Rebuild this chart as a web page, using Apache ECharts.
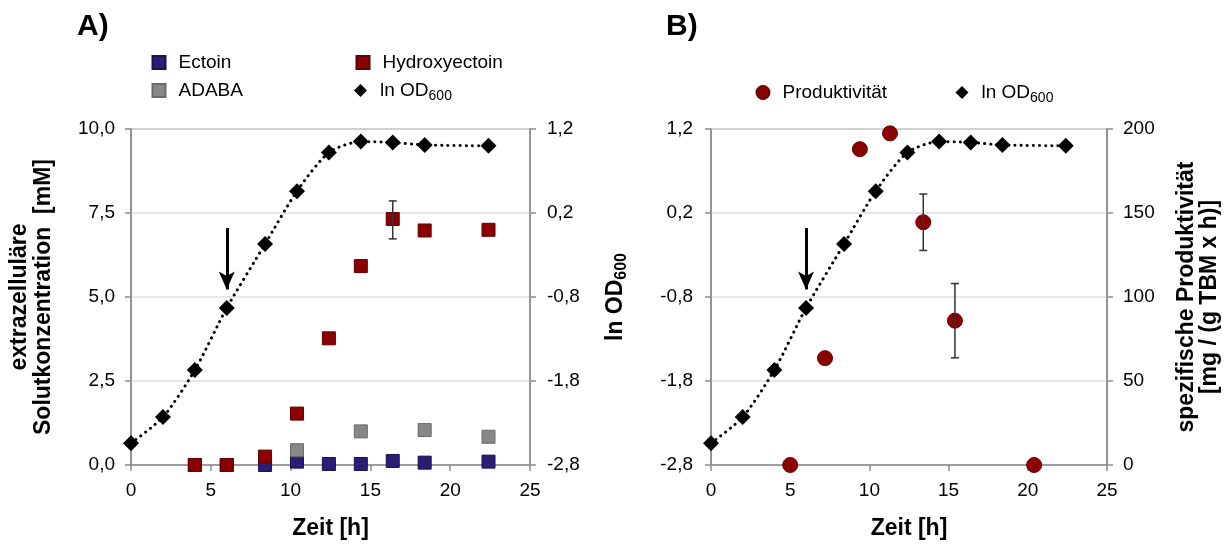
<!DOCTYPE html>
<html>
<head>
<meta charset="utf-8">
<script src="https://cdn.jsdelivr.net/npm/echarts@6/dist/echarts.min.js"></script>
<style>
  html, body { margin: 0; padding: 0; background: #fff; }
  #chart { width: 1229px; height: 545px; }
</style>
</head>
<body>
<div id="chart"></div>
<script>
// Wachstum (ln OD600) – gleiche Messzeitpunkte in A und B
const timeOD = [0, 2, 4, 6, 8.4, 10.4, 12.4, 14.4, 16.4, 18.4, 22.4]
const lnOD = [-2.54, -2.23, -1.67, -0.93, -0.17, 0.46, 0.92, 1.05, 1.04, 1.01, 1.0]

// A) extrazelluläre Solutkonzentration [mM]
const timeSolute = [4, 6, 8.4, 10.4, 12.4, 14.4, 16.4, 18.4, 22.4]
const ectoin = [0, 0, 0, 0.1, 0.03, 0.03, 0.12, 0.07, 0.1]
const hydroxyectoin = [0, 0, 0.25, 1.53, 3.77, 5.92, 7.32, 6.98, 7.0]
const timeAdaba = [10.4, 14.4, 18.4, 22.4]
const adaba = [0.44, 1.0, 1.04, 0.84]
const hydroxyErr = [[16.4, 6.73, 7.86]]

// B) spezifische Produktivität [mg / (g TBM x h)]
const timeProd = [5, 7.2, 9.4, 11.3, 13.4, 15.4, 20.4]
const produktivitaet = [0, 63.6, 188, 197.4, 144.5, 85.9, 0]
const prodErr = [[13.4, 127.7, 161.3], [15.4, 63.8, 108]]

// Pfeil (Zeitpunkt der Zugabe), in ln OD600
const arrowTime = 6
const arrowLnOD = [0.02, -0.71]

// Achsen-Ticks
const lnODTicks = [-2.8, -1.8, -0.8, 0.2, 1.2]

const FONT = 'Liberation Sans, Arial, sans-serif'
const AXIS_GRAY = '#8c8c8c'
const comma = v => (Math.round(v * 10) / 10).toFixed(1).replace('.', ',')
const zip = (xs, ys) => xs.map((x, i) => [x, ys[i]])

const subRich = (size, sub, lh, subLh, weight) => ({
  a: { fontSize: size, fontFamily: FONT, fontWeight: weight, lineHeight: lh, color: '#000' },
  s: { fontSize: sub, fontFamily: FONT, fontWeight: weight, lineHeight: subLh, verticalAlign: 'bottom', color: '#000' }
})

const errorBars = (name, xIdx, yIdx, data) => ({
  name: name,
  type: 'custom',
  xAxisIndex: xIdx,
  yAxisIndex: yIdx,
  z: 3,
  silent: true,
  encode: { x: 0, y: [1, 2] },
  renderItem: function(params, api) {
    const lo = api.coord([api.value(0), api.value(1)])
    const hi = api.coord([api.value(0), api.value(2)])
    const style = { stroke: '#333', lineWidth: 1.5 }
    return {
      type: 'group',
      children: [
        { type: 'line', shape: { x1: lo[0], y1: lo[1], x2: hi[0], y2: hi[1] }, style: style },
        { type: 'line', shape: { x1: lo[0] - 4, y1: lo[1], x2: lo[0] + 4, y2: lo[1] }, style: style },
        { type: 'line', shape: { x1: hi[0] - 4, y1: hi[1], x2: hi[0] + 4, y2: hi[1] }, style: style }
      ]
    }
  },
  data: data
})

const arrowMark = {
  silent: true,
  symbol: ['none', 'arrow'],
  symbolSize: [12, 18],
  label: { show: false },
  lineStyle: { color: '#000', width: 3, type: 'solid' },
  emphasis: { disabled: true },
  data: [[{ coord: [arrowTime, arrowLnOD[0]] }, { coord: [arrowTime, arrowLnOD[1]] }]]
}

const legendItem = (name, icon, left, top) => {
  const rich = subRich(19, 14, 26, 10, 'normal')
  rich.a.padding = [0, 0, 0, 8]
  return {
    data: [{ name: name, icon: icon }],
    left: left,
    top: top,
    padding: 0,
    itemWidth: 13,
    itemHeight: 13,
    selectedMode: false,
    formatter: n => n === 'ln OD600' ? '{a|ln OD}{s|600}' : '{a|' + n + '}',
    textStyle: { fontSize: 19, fontFamily: FONT, color: '#000', rich: rich }
  }
}

const xAxisBase = (gridIndex) => ({
  gridIndex: gridIndex,
  type: 'value',
  min: 0,
  max: 25,
  interval: 5,
  name: 'Zeit [h]',
  nameLocation: 'middle',
  nameGap: 52,
  nameTextStyle: { fontSize: 23, fontWeight: 'bold', color: '#000', fontFamily: FONT },
  axisLine: { onZero: false, lineStyle: { color: AXIS_GRAY, width: 1.5 } },
  axisTick: { length: 6, lineStyle: { color: AXIS_GRAY, width: 1.5 } },
  axisLabel: { fontSize: 19, color: '#000', margin: 16, fontFamily: FONT },
  splitLine: { show: false }
})

const lnODAxis = (gridIndex, position, margin, extra) => Object.assign({
  gridIndex: gridIndex,
  type: 'value',
  position: position,
  min: -2.8,
  max: 1.2,
  axisLine: { show: true, onZero: false, lineStyle: { color: AXIS_GRAY, width: 1.5 } },
  axisTick: { show: true, length: 6, customValues: lnODTicks, lineStyle: { color: AXIS_GRAY, width: 1.5 } },
  axisLabel: { customValues: lnODTicks, formatter: comma, fontSize: 19, color: '#000', margin: margin, fontFamily: FONT },
  splitLine: { show: false }
}, extra)

const chart = echarts.init(document.getElementById('chart'), null, { renderer: 'canvas' })
chart.setOption({
  animation: false,
  textStyle: { fontFamily: FONT },
  title: [
    { text: 'A)', left: 77, top: 12, padding: 0, textStyle: { fontSize: 30, fontWeight: 'bold', color: '#000', fontFamily: FONT } },
    { text: 'B)', left: 666, top: 12, padding: 0, textStyle: { fontSize: 30, fontWeight: 'bold', color: '#000', fontFamily: FONT } }
  ],
  legend: [
    legendItem('Ectoin', 'rect', 151.5, 53),
    legendItem('Hydroxyectoin', 'rect', 355.5, 53),
    legendItem('ADABA', 'rect', 151.5, 81),
    legendItem('ln OD600', 'diamond', 354, 81),
    legendItem('Produktivität', 'circle', 755.5, 83),
    legendItem('ln OD600', 'diamond', 955.5, 83)
  ],
  grid: [
    { left: 131, top: 129, width: 399, height: 338, show: true, borderColor: AXIS_GRAY, borderWidth: 1.5, backgroundColor: 'transparent' },
    { left: 711, top: 129, width: 396, height: 338, show: true, borderColor: AXIS_GRAY, borderWidth: 1.5, backgroundColor: 'transparent' }
  ],
  xAxis: [xAxisBase(0), xAxisBase(1)],
  yAxis: [
    {
      gridIndex: 0,
      type: 'value',
      position: 'left',
      min: 0,
      max: 10,
      interval: 2.5,
      name: 'extrazelluläre\nSolutkonzentration  [mM]',
      nameLocation: 'middle',
      nameGap: 75,
      nameTextStyle: { fontSize: 23, fontWeight: 'bold', color: '#000', lineHeight: 24, fontFamily: FONT },
      axisLine: { show: true, onZero: false, lineStyle: { color: AXIS_GRAY, width: 1.5 } },
      axisTick: { show: true, length: 6, lineStyle: { color: AXIS_GRAY, width: 1.5 } },
      axisLabel: { formatter: comma, fontSize: 19, color: '#000', margin: 16, fontFamily: FONT },
      splitLine: { show: true, lineStyle: { color: '#dedede', width: 1.5 } }
    },
    lnODAxis(0, 'right', 17, {
      name: '{a|ln OD}{s|600}',
      nameLocation: 'middle',
      nameRotate: 90,
      nameGap: 72,
      nameTextStyle: { fontSize: 23, fontWeight: 'bold', fontFamily: FONT, color: '#000', rich: subRich(23, 16, 28, 12, 'bold') }
    }),
    lnODAxis(1, 'left', 18, {}),
    {
      gridIndex: 1,
      type: 'value',
      position: 'right',
      min: 0,
      max: 200,
      interval: 50,
      name: 'spezifische Produktivität\n[mg / (g TBM x h)]',
      nameLocation: 'middle',
      nameRotate: 90,
      nameGap: 68,
      nameTextStyle: { fontSize: 23, fontWeight: 'bold', color: '#000', lineHeight: 23, fontFamily: FONT },
      axisLine: { show: true, onZero: false, lineStyle: { color: AXIS_GRAY, width: 1.5 } },
      axisTick: { show: true, length: 6, lineStyle: { color: AXIS_GRAY, width: 1.5 } },
      axisLabel: { fontSize: 19, color: '#000', margin: 16, fontFamily: FONT },
      splitLine: { show: true, lineStyle: { color: '#dedede', width: 1.5 } }
    }
  ],
  series: [
    // A)
    {
      name: 'Ectoin',
      type: 'scatter',
      xAxisIndex: 0,
      yAxisIndex: 0,
      symbol: 'rect',
      symbolSize: 13,
      itemStyle: { color: '#2b1c78', borderColor: '#1c1250', borderWidth: 1, opacity: 1 },
      data: zip(timeSolute, ectoin)
    },
    {
      name: 'ADABA',
      type: 'scatter',
      xAxisIndex: 0,
      yAxisIndex: 0,
      symbol: 'rect',
      symbolSize: 13,
      itemStyle: { color: '#878787', borderColor: '#6a6a6a', borderWidth: 1, opacity: 1 },
      data: zip(timeAdaba, adaba)
    },
    {
      name: 'Hydroxyectoin',
      type: 'scatter',
      xAxisIndex: 0,
      yAxisIndex: 0,
      symbol: 'rect',
      symbolSize: 13,
      itemStyle: { color: '#8b0000', borderColor: '#600000', borderWidth: 1, opacity: 1 },
      data: zip(timeSolute, hydroxyectoin)
    },
    errorBars('errA', 0, 0, hydroxyErr),
    {
      name: 'ln OD600',
      type: 'line',
      xAxisIndex: 0,
      yAxisIndex: 1,
      symbol: 'diamond',
      symbolSize: 16,
      smooth: 0.25,
      z: 4,
      itemStyle: { color: '#000', opacity: 1 },
      lineStyle: { color: '#000', width: 3, type: [0.1, 6], cap: 'round' },
      markLine: arrowMark,
      data: zip(timeOD, lnOD)
    },
    // B)
    {
      name: 'Produktivität',
      type: 'scatter',
      xAxisIndex: 1,
      yAxisIndex: 3,
      symbol: 'circle',
      symbolSize: 15,
      itemStyle: { color: '#8b0000', borderColor: '#6a0000', borderWidth: 1, opacity: 1 },
      data: zip(timeProd, produktivitaet)
    },
    errorBars('errB', 1, 3, prodErr),
    {
      name: 'ln OD600',
      type: 'line',
      xAxisIndex: 1,
      yAxisIndex: 2,
      symbol: 'diamond',
      symbolSize: 16,
      smooth: 0.25,
      z: 4,
      itemStyle: { color: '#000', opacity: 1 },
      lineStyle: { color: '#000', width: 3, type: [0.1, 6], cap: 'round' },
      markLine: arrowMark,
      data: zip(timeOD, lnOD)
    }
  ]
})
</script>
</body>
</html>
